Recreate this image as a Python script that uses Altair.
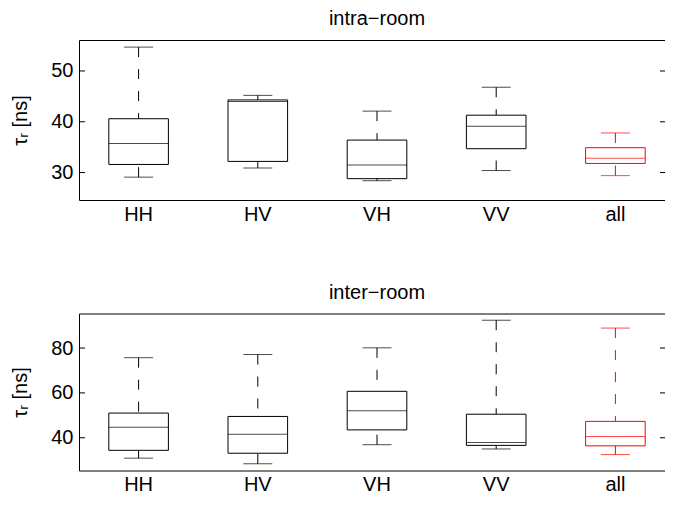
import altair as alt
import pandas as pd

# ---- data ----
categories = ["HH", "HV", "VH", "VV", "all"]
box_colors = ["black", "black", "black", "black", "red"]

intra_lower = [29.1, 30.9, 28.4, 30.4, 29.4]
intra_q1 = [31.6, 32.2, 28.8, 34.7, 31.8]
intra_median = [35.7, 44.0, 31.5, 39.1, 32.8]
intra_q3 = [40.6, 44.3, 36.4, 41.3, 34.9]
intra_upper = [54.7, 45.2, 42.1, 46.8, 37.8]

inter_lower = [30.9, 28.4, 36.9, 35.0, 32.5]
inter_q1 = [34.4, 33.1, 43.5, 36.6, 36.4]
inter_median = [44.7, 41.6, 52.0, 37.9, 40.6]
inter_q3 = [51.0, 49.5, 60.7, 50.5, 47.3]
inter_upper = [75.7, 77.1, 80.1, 92.4, 88.9]

intra_ticks = [30, 40, 50]
inter_ticks = [40, 60, 80]
intra_domain = [24.6, 56.1]
inter_domain = [25.4, 95.4]

YTITLE = "τᵣ [ns]"
FONT = "Liberation Sans"
W = 596
VISIBLE_W = 587


def panel(title, lower, q1, med, q3, upper, ticks, domain, height):
    df = pd.DataFrame({
        "cat": categories, "color": box_colors,
        "lower": lower, "q1": q1, "median": med, "q3": q3, "upper": upper,
    })
    tdf = pd.DataFrame({"t": ticks})
    ys = alt.Scale(domain=domain, nice=False, zero=False)
    xenc = alt.X("cat:N", sort=categories, title=None,
                 scale=alt.Scale(paddingInner=0.5, paddingOuter=0.25))
    col = alt.Color("color:N", scale=None)
    stk = alt.Stroke("color:N", scale=None)
    base = alt.Chart(df)

    whisk_up = base.mark_rule(strokeDash=[10, 12], strokeWidth=1).encode(
        x=xenc, y=alt.Y("upper:Q", scale=ys, title=YTITLE,
                        axis=alt.Axis(values=ticks)), y2="q3:Q", color=col)
    whisk_lo = base.mark_rule(strokeDash=[10, 12], strokeWidth=1).encode(
        x=xenc, y=alt.Y("lower:Q", scale=ys, title=YTITLE), y2="q1:Q", color=col)
    box = base.mark_bar(fillOpacity=0, strokeWidth=1).encode(
        x=xenc, y=alt.Y("q1:Q", scale=ys, title=YTITLE), y2="q3:Q", stroke=stk)
    medl = base.mark_tick(size=59.6, thickness=1, orient="horizontal").encode(
        x=xenc, y=alt.Y("median:Q", scale=ys, title=YTITLE), color=col)
    cap_up = base.mark_tick(size=29, thickness=1, orient="horizontal").encode(
        x=xenc, y=alt.Y("upper:Q", scale=ys, title=YTITLE), color=col)
    cap_lo = base.mark_tick(size=29, thickness=1, orient="horizontal").encode(
        x=xenc, y=alt.Y("lower:Q", scale=ys, title=YTITLE), color=col)
    tick_l = alt.Chart(tdf).mark_rule(color="black", strokeWidth=1).encode(
        y=alt.Y("t:Q", scale=ys, title=YTITLE), x=alt.value(0), x2=alt.value(6))
    tick_r = alt.Chart(tdf).mark_rule(color="black", strokeWidth=1).encode(
        y=alt.Y("t:Q", scale=ys, title=YTITLE), x=alt.value(VISIBLE_W - 6), x2=alt.value(VISIBLE_W))

    return alt.layer(whisk_up, whisk_lo, box, medl, cap_up, cap_lo, tick_l, tick_r).properties(
        width=W, height=height,
        title=alt.TitleParams(title, fontSize=20, fontWeight="normal", font=FONT,
                              color="black", anchor="middle", offset=11),
    )


top = panel("intra−room", intra_lower, intra_q1, intra_median, intra_q3, intra_upper,
            intra_ticks, intra_domain, 160)
bottom = panel("inter−room", inter_lower, inter_q1, inter_median, inter_q3, inter_upper,
               inter_ticks, inter_domain, 157)

chart = alt.vconcat(top, bottom, spacing=56.5).properties(
    padding={"left": 2, "top": 0, "right": -11, "bottom": 0},
).configure(
    font=FONT
).configure_view(
    stroke="black", strokeWidth=1
).configure_axis(
    grid=False, domain=False, ticks=False, labelColor="black", titleColor="black",
    labelFont=FONT, titleFont=FONT,
).configure_axisX(
    labelAngle=0, labelFontSize=20, labelPadding=4,
).configure_axisY(
    labelFontSize=20, labelPadding=6, titleFontSize=20, titleFontWeight="normal",
    titlePadding=20,
)

chart.save("out.html", embed_options={"renderer": "svg", "actions": False})
